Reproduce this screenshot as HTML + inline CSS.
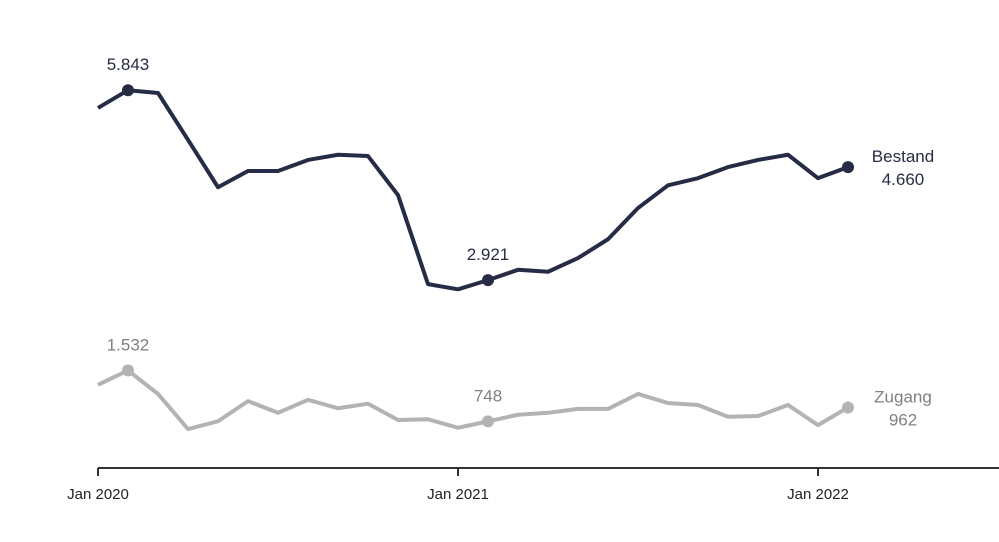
<!DOCTYPE html>
<html><head><meta charset="utf-8"><style>
html,body{margin:0;padding:0;background:#fff;}
svg{display:block;font-family:"Liberation Sans",sans-serif;}
</style></head><body>
<svg id="chart" width="999" height="542" viewBox="0 0 999 542"></svg>
<script>
const months = ["2019-12","2020-01","2020-02","2020-03","2020-04","2020-05","2020-06","2020-07","2020-08","2020-09","2020-10","2020-11","2020-12","2021-01","2021-02","2021-03","2021-04","2021-05","2021-06","2021-07","2021-08","2021-09","2021-10","2021-11","2021-12","2022-01"];
const bestand = [5.57,5.843,5.80,5.08,4.35,4.60,4.60,4.77,4.85,4.83,4.23,2.86,2.78,2.921,3.08,3.05,3.26,3.55,4.03,4.38,4.49,4.66,4.77,4.85,4.49,4.660];
const zugang = [1.31,1.532,1.17,0.63,0.75,1.06,0.88,1.08,0.95,1.02,0.77,0.78,0.65,0.748,0.85,0.88,0.94,0.94,1.17,1.03,1.00,0.82,0.83,1.00,0.69,0.962];
const tickLabels = ["Jan 2020","Jan 2021","Jan 2022"];
const tickIndex = [0,12,24];

const NS="http://www.w3.org/2000/svg";
const svg=document.getElementById('chart');
const x=i=>98+i*30;
const y=v=>470-v*65;
function mk(tag,attrs,parent){const e=document.createElementNS(NS,tag);for(const k in attrs)e.setAttribute(k,attrs[k]);(parent||svg).appendChild(e);return e;}
function txt(s,attrs){const t=mk('text',attrs);t.textContent=s;return t;}

// axis
const ax=mk('line',{x1:98,x2:999,y1:468,y2:468,stroke:'#333',"stroke-width":2});


tickIndex.forEach((ti,k)=>{
  const tk=mk('line',{x1:x(ti),x2:x(ti),y1:468,y2:476,stroke:'#333',"stroke-width":2});
  
  
  const lb=txt(tickLabels[k],{x:x(ti),y:499,"text-anchor":"middle","font-size":15,fill:'#222'});
  
  
});

function series(vals,color,name,labelColor,endLabel){
  const d=vals.map((v,i)=>(i?'L':'M')+x(i)+','+y(v)).join(' ');
  const p=mk('path',{d:d,fill:'none',stroke:color,"stroke-width":4,"stroke-linejoin":"round"});
  
  
  [1,13,vals.length-1].forEach(i=>{
    const c=mk('circle',{cx:x(i),cy:y(vals[i]),r:6,fill:color});
    
    
    const s=vals[i].toFixed(3).replace('.', vals[i]>=1?'.':'');
    const str=vals[i]>=1?vals[i].toFixed(3):String(Math.round(vals[i]*1000));
    if(i<vals.length-1){
      const t=txt(str,{x:x(i),y:y(vals[i])-20,"text-anchor":"middle","font-size":17,fill:labelColor});
      
      
    } else {
      const t1=txt(endLabel,{x:x(i)+55,y:y(vals[i])-5,"text-anchor":"middle","font-size":17,fill:labelColor});
      
      
      const t2=txt(str,{x:x(i)+55,y:y(vals[i])+18,"text-anchor":"middle","font-size":17,fill:labelColor});
      
      
    }
  });
}
series(bestand,'#262c45','bestand','#262c45','Bestand');
series(zugang,'#b3b3b3','zugang','#808080','Zugang');
</script>
</body></html>
